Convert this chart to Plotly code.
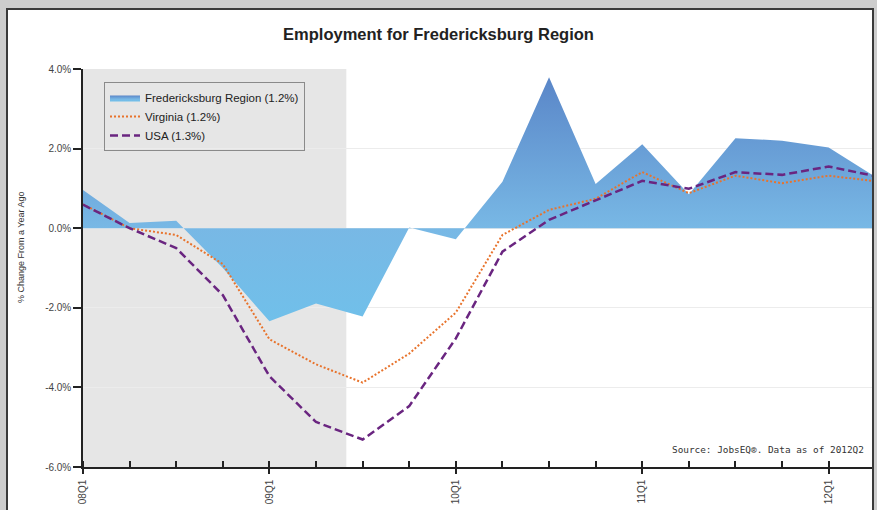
import plotly.graph_objects as go

# Quarterly year-over-year employment change (%)
quarters = ['08Q1', '08Q2', '08Q3', '08Q4', '09Q1', '09Q2', '09Q3', '09Q4',
            '10Q1', '10Q2', '10Q3', '10Q4', '11Q1', '11Q2', '11Q3', '11Q4',
            '12Q1', '12Q2']
fredericksburg = [0.96, 0.13, 0.19, -1.0, -2.34, -1.89, -2.22, 0.02,
                  -0.28, 1.17, 3.79, 1.11, 2.11, 0.85, 2.26, 2.20,
                  2.03, 1.29]
virginia = [0.60, 0.0, -0.17, -0.90, -2.79, -3.42, -3.88, -3.15,
            -2.12, -0.17, 0.46, 0.74, 1.41, 0.88, 1.32, 1.13,
            1.32, 1.18]
usa = [0.59, 0.0, -0.50, -1.68, -3.72, -4.87, -5.31, -4.47,
       -2.77, -0.59, 0.21, 0.71, 1.19, 0.99, 1.41, 1.34,
       1.55, 1.31]

series_names = ['Fredericksburg Region (1.2%)', 'Virginia (1.2%)', 'USA (1.3%)']
recession = (0, 5.65)  # shaded period, in quarter index units

y_ticks = [-6, -4, -2, 0, 2, 4]
y_tick_labels = ['-6.0%', '-4.0%', '-2.0%', '0.0%', '2.0%', '4.0%']
year_labels = ['08Q1', '09Q1', '10Q1', '11Q1', '12Q1']

x_idx = list(range(len(quarters)))
year_idx = [quarters.index(q) for q in year_labels]

# page geometry (pixels)
W, H = 877, 510
L, R, T, B = 83, 5, 69, 43
PW, PH = W - L - R, H - T - B


def px_x(p):
    return (p - L) / PW


def px_y(p):
    return (H - B - p) / PH


fig = go.Figure()

fig.add_trace(go.Scatter(
    name=series_names[0],
    x=x_idx, y=fredericksburg,
    mode='lines',
    line=dict(width=0, color='#6aa6dc'),
    fill='tozeroy',
    fillgradient=dict(
        type='vertical', start=-2.4, stop=3.8,
        colorscale=[[0, '#70c0ea'], [0.39, '#78b8e5'], [1, '#5a86c8']]
    ),
))

fig.add_trace(go.Scatter(
    name=series_names[1],
    x=x_idx, y=virginia,
    mode='lines',
    line=dict(color='#e8732c', width=2, dash='2px,2px'),
))

fig.add_trace(go.Scatter(
    name=series_names[2],
    x=x_idx, y=usa,
    mode='lines',
    line=dict(color='#6a2580', width=2.5, dash='8px,4px'),
))

# recession shading
fig.add_shape(type='rect', xref='x', yref='y', layer='below',
              x0=recession[0], x1=recession[1], y0=-6, y1=4,
              fillcolor='#e6e6e6', line=dict(width=0))

# white card + frame
fig.add_shape(type='rect', xref='paper', yref='paper', layer='below',
              x0=px_x(7), x1=px_x(873), y0=px_y(600), y1=px_y(9),
              fillcolor='white', line=dict(width=0))
fig.add_shape(type='rect', xref='paper', yref='paper', layer='above',
              x0=px_x(7), x1=px_x(873), y0=px_y(600), y1=px_y(9),
              fillcolor='rgba(0,0,0,0)', line=dict(color='#3a3a3a', width=2))

fig.add_annotation(
    text='Source: JobsEQ®. Data as of 2012Q2',
    xref='paper', yref='paper', x=px_x(866), y=px_y(449),
    xanchor='right', yanchor='middle', showarrow=False,
    font=dict(family='DejaVu Sans Mono', size=9.4, color='#333333'),
)

fig.add_annotation(
    text='% Change From a Year Ago',
    xref='paper', yref='paper', x=px_x(21), y=px_y(247),
    xanchor='center', yanchor='middle', showarrow=False, textangle=-90,
    font=dict(family='Arial', size=9, color='#333333'),
)

fig.update_layout(
    width=W, height=H,
    margin=dict(l=L, r=R, t=T, b=B),
    paper_bgcolor='#cdcdcd',
    plot_bgcolor='white',
    title=dict(
        text='<b>Employment for Fredericksburg Region</b>',
        x=0.5, xref='container', xanchor='center',
        y=1 - 34 / H, yref='container', yanchor='middle',
        font=dict(family='Arial', size=16.5, color='#222222'),
    ),
    xaxis=dict(
        range=[0, 16.93], automargin=False,
        tickmode='array', tickvals=year_idx, ticktext=year_labels,
        tickangle=-90, ticklabelstandoff=2,
        ticks='outside', ticklen=5, tickwidth=1.5, tickcolor='#222222',
        minor=dict(tickmode='array', tickvals=x_idx, ticks='inside',
                   ticklen=6, tickwidth=1.5, tickcolor='#222222'),
        showline=True, linecolor='#222222', linewidth=1.5,
        showgrid=False, zeroline=False,
        tickfont=dict(family='Arial', size=10, color='#444444'),
    ),
    yaxis=dict(
        range=[-6, 4], automargin=False,
        tickmode='array', tickvals=y_ticks, ticktext=y_tick_labels,
        ticks='outside', ticklen=8, tickwidth=1.5, tickcolor='#222222',
        showline=True, linecolor='#222222', linewidth=1.5,
        showgrid=True, gridcolor='#ececec', gridwidth=1,
        zeroline=False,
        tickfont=dict(family='Arial', size=10, color='#444444'),
    ),
    legend=dict(
        x=px_x(104), y=px_y(82), xanchor='left', yanchor='top',
        bgcolor='rgba(0,0,0,0)', bordercolor='#8a8a8a', borderwidth=1,
        font=dict(family='Arial', size=11.5, color='#222222'),
        tracegroupgap=0, itemwidth=30,
    ),
    showlegend=True,
)

fig.write_html('out.html', config={'displayModeBar': False},
               post_script="document.body.style.margin='0';")
